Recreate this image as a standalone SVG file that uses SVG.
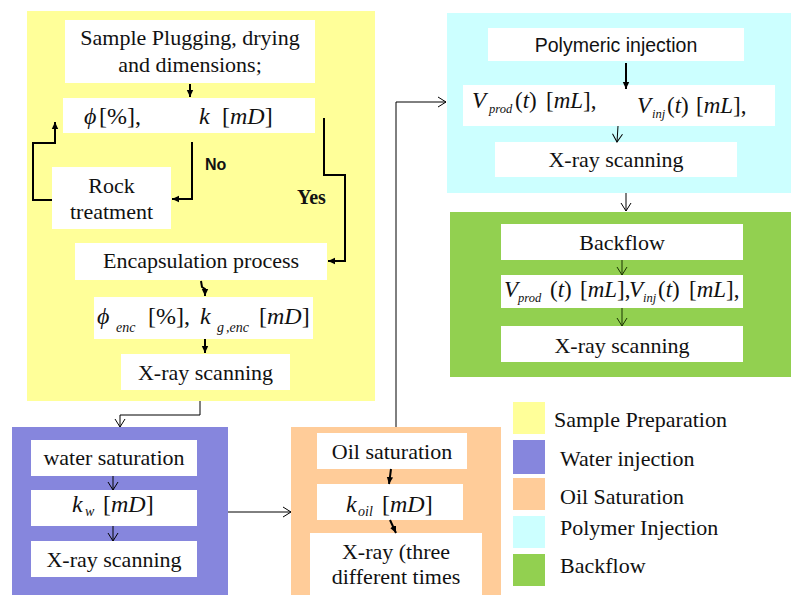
<svg xmlns="http://www.w3.org/2000/svg" width="791" height="595" viewBox="0 0 791 595">
<style>
.t{font-family:"Liberation Serif","Times New Roman",serif;font-size:22px;fill:#111}
.m{font-family:"Liberation Serif","Times New Roman",serif;font-size:24px;fill:#111}
.mv{font-family:"Liberation Serif","Times New Roman",serif;font-size:23px;fill:#111}
.i{font-style:italic}
.s{font-family:"Liberation Serif","Times New Roman",serif;font-style:italic;font-size:14px;fill:#111}
.sv{font-family:"Liberation Serif","Times New Roman",serif;font-style:italic;font-size:12.5px;fill:#111}
.a{font-family:"Liberation Sans",Arial,sans-serif;font-size:19.5px;fill:#111}
.box{fill:#fff}
.thick{fill:none;stroke:#000;stroke-width:2}
.thin{fill:none;stroke:#000;stroke-width:1}
.thing{fill:none;stroke:#1a3300;stroke-width:1}
</style>
<defs>
<marker id="fa" markerUnits="userSpaceOnUse" markerWidth="8" markerHeight="8" refX="7" refY="4" orient="auto">
<path d="M0,0.8 L7,4 L0,7.2 Z" fill="#000"/>
</marker>
<marker id="oa" markerUnits="userSpaceOnUse" markerWidth="10" markerHeight="12" refX="9" refY="6" orient="auto">
<path d="M1,1 L9,6 L1,11" fill="none" stroke="#000" stroke-width="1"/>
</marker>
<marker id="og" markerUnits="userSpaceOnUse" markerWidth="10" markerHeight="12" refX="9" refY="6" orient="auto">
<path d="M1,1 L9,6 L1,11" fill="none" stroke="#1a3300" stroke-width="1"/>
</marker>
</defs>
<rect width="791" height="595" fill="#fff"/>

<g id="panels">
<rect x="27" y="11" width="348" height="390" fill="#FFFF99"/>
<rect x="12" y="427" width="216" height="168" fill="#8686DD"/>
<rect x="291" y="427" width="210" height="168" fill="#FFCC99"/>
<rect x="447" y="13" width="344" height="180" fill="#CCFFFF"/>
<rect x="450" y="212" width="341" height="165" fill="#92D050"/>
</g>

<g id="sample-plugging">
<rect class="box" x="65" y="20" width="250" height="63"/>
<text class="t" x="190" y="45" text-anchor="middle">Sample Plugging, drying</text>
<text class="t" x="190" y="72" text-anchor="middle">and dimensions;</text>
</g>
<g id="phi-k">
<rect class="box" x="63" y="98" width="252" height="35"/>
<text class="m"><tspan class="i" x="84" y="124">ϕ</tspan><tspan x="99" y="124">[%],</tspan><tspan class="i" x="199" y="124">k</tspan><tspan x="222" y="124">[</tspan><tspan class="i">mD</tspan><tspan>]</tspan></text>
</g>
<g id="rock-treatment">
<rect class="box" x="52" y="167" width="119" height="62"/>
<text class="t" x="111.5" y="193" text-anchor="middle">Rock</text>
<text class="t" x="111.5" y="219" text-anchor="middle">treatment</text>
</g>
<g id="encapsulation">
<rect class="box" x="75" y="243" width="252" height="37"/>
<text class="t" x="201" y="268" text-anchor="middle">Encapsulation process</text>
</g>
<g id="phi-enc">
<rect class="box" x="94" y="297" width="219" height="42"/>
<text class="m"><tspan class="i" x="97" y="324">ϕ</tspan><tspan x="148" y="324">[%],</tspan><tspan class="i" x="200" y="324">k</tspan><tspan x="259" y="324">[</tspan><tspan class="i">mD</tspan><tspan>]</tspan></text>
<text class="s"><tspan x="116" y="332">enc</tspan><tspan x="217" y="332">g</tspan><tspan x="226" y="332">,enc</tspan></text>
</g>
<g id="xray-1">
<rect class="box" x="121" y="354" width="169" height="36"/>
<text class="t" x="205.5" y="380" text-anchor="middle">X-ray scanning</text>
</g>

<g id="water-saturation">
<rect class="box" x="31" y="440" width="166" height="36"/>
<text class="t" x="114" y="465" text-anchor="middle">water saturation</text>
</g>
<g id="kw">
<rect class="box" x="31" y="490" width="166" height="36"/>
<text class="m"><tspan class="i" x="72" y="512">k</tspan><tspan x="103" y="512">[</tspan><tspan class="i">mD</tspan><tspan>]</tspan></text>
<text class="s" x="85" y="516">w</text>
</g>
<g id="xray-2">
<rect class="box" x="31" y="541" width="166" height="36"/>
<text class="t" x="114" y="567" text-anchor="middle">X-ray scanning</text>
</g>

<g id="oil-saturation">
<rect class="box" x="317" y="433" width="150" height="36"/>
<text class="t" x="392" y="459" text-anchor="middle">Oil saturation</text>
</g>
<g id="koil">
<rect class="box" x="317" y="484" width="146" height="36"/>
<text class="m"><tspan class="i" x="346" y="512">k</tspan><tspan x="382" y="512">[</tspan><tspan class="i">mD</tspan><tspan>]</tspan></text>
<text class="s" x="358" y="516">oil</text>
</g>
<g id="xray-3">
<rect class="box" x="310" y="533" width="172" height="62"/>
<text class="t" x="396" y="559" text-anchor="middle">X-ray (three</text>
<text class="t" x="396" y="584" text-anchor="middle">different times</text>
</g>

<g id="polymeric-injection">
<rect class="box" x="488" y="28" width="256" height="33"/>
<text class="a" x="616" y="52" text-anchor="middle">Polymeric injection</text>
</g>
<g id="v-cyan">
<rect class="box" x="463" y="85" width="312" height="41"/>
<text class="mv"><tspan class="i" x="472" y="108">V</tspan><tspan x="515" y="108">(</tspan><tspan class="i">t</tspan><tspan>)</tspan><tspan x="546" y="108">[</tspan><tspan class="i">mL</tspan><tspan>],</tspan><tspan class="i" x="637" y="113">V</tspan><tspan x="667" y="113">(</tspan><tspan class="i">t</tspan><tspan>)</tspan><tspan x="696" y="113">[</tspan><tspan class="i">mL</tspan><tspan>],</tspan></text>
<text class="sv"><tspan x="489" y="113">prod</tspan><tspan x="652" y="118">inj</tspan></text>
</g>
<g id="xray-4">
<rect class="box" x="495" y="142" width="242" height="35"/>
<text class="t" x="616" y="167" text-anchor="middle">X-ray scanning</text>
</g>

<g id="backflow">
<rect class="box" x="501" y="224" width="242" height="36"/>
<text class="t" x="622" y="250" text-anchor="middle">Backflow</text>
</g>
<g id="v-green">
<rect class="box" x="501" y="275" width="242" height="33"/>
<text class="mv"><tspan class="i" x="504" y="297">V</tspan><tspan x="550" y="297">(</tspan><tspan class="i">t</tspan><tspan>)</tspan><tspan x="580" y="297">[</tspan><tspan class="i">mL</tspan><tspan>],</tspan><tspan class="i" x="629" y="297">V</tspan><tspan x="658" y="297">(</tspan><tspan class="i">t</tspan><tspan>)</tspan><tspan x="689" y="297">[</tspan><tspan class="i">mL</tspan><tspan>],</tspan></text>
<text class="sv"><tspan x="518" y="302">prod</tspan><tspan x="643" y="302">inj</tspan></text>
</g>
<g id="xray-5">
<rect class="box" x="501" y="326" width="242" height="36"/>
<text class="t" x="622" y="353" text-anchor="middle">X-ray scanning</text>
</g>

<g id="connectors">
<path class="thick" d="M190,84 L190,97" marker-end="url(#fa)"/>
<path class="thick" d="M192,142 L192,199 L172,199" marker-end="url(#fa)"/>
<path class="thick" d="M52,200 L33,200 L33,143 L55,143 L55,122" marker-end="url(#fa)"/>
<path class="thick" d="M324,118 L324,175 L345,175 L345,261 L328,261" marker-end="url(#fa)"/>
<path class="thick" d="M201,281 L202,287 L205,289 L205,296" marker-end="url(#fa)"/>
<path class="thick" d="M205,339 L205,353" marker-end="url(#fa)"/>
<path class="thin" d="M200,401 L200,415 L120,415 L120,427" marker-end="url(#oa)"/>
<path class="thin" d="M113,476 L113,490" marker-end="url(#oa)"/>
<path class="thin" d="M113,526 L113,541" marker-end="url(#oa)"/>
<path class="thin" d="M228,512 L291,512" marker-end="url(#oa)"/>
<path class="thick" d="M391,469 L389,484" marker-end="url(#fa)"/>
<path class="thick" d="M390,520 L396,533" marker-end="url(#fa)"/>
<path class="thin" d="M396,427 L396,102 L446,102" marker-end="url(#oa)"/>
<path class="thick" d="M626,63 L626,89" marker-end="url(#fa)"/>
<path class="thin" d="M618,126 L617,142" marker-end="url(#oa)"/>
<path class="thin" d="M626,193 L626,211" marker-end="url(#oa)"/>
<path class="thing" d="M622,260 L622,275" marker-end="url(#og)"/>
<path class="thing" d="M622,308 L622,326" marker-end="url(#og)"/>
<text x="205" y="170" font-family="Liberation Sans, Arial, sans-serif" font-weight="bold" font-size="16" fill="#111">No</text>
<text x="297" y="204" font-family="Liberation Serif, Times New Roman, serif" font-weight="bold" font-size="20" fill="#111">Yes</text>
</g>

<g id="legend">
<rect x="513" y="402" width="32" height="32" fill="#FFFF99"/>
<rect x="513" y="440" width="32" height="34" fill="#8686DD"/>
<rect x="513" y="478" width="32" height="32" fill="#FFCC99"/>
<rect x="513" y="516" width="32" height="32" fill="#CCFFFF"/>
<rect x="513" y="554" width="32" height="32" fill="#92D050"/>
<text class="t" x="554" y="427">Sample Preparation</text>
<text class="t" x="560" y="466">Water injection</text>
<text class="t" x="560" y="504">Oil Saturation</text>
<text class="t" x="560" y="535">Polymer Injection</text>
<text class="t" x="560" y="573">Backflow</text>
</g>
</svg>
